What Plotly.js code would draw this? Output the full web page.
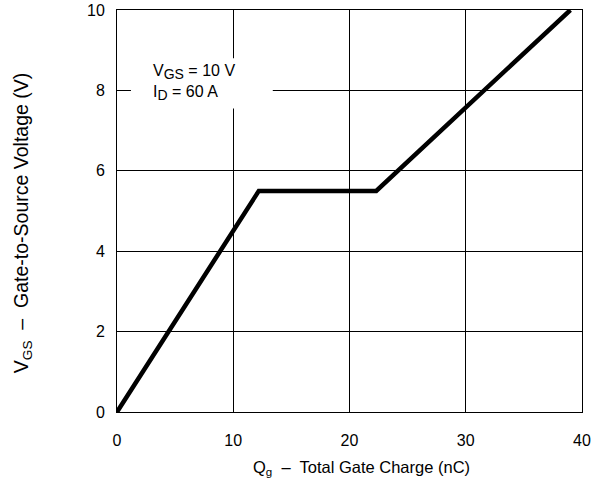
<!DOCTYPE html>
<html><head><meta charset="utf-8">
<script src="https://cdn.plot.ly/plotly-3.0.1.min.js"></script>
<style>html,body{margin:0;padding:0;background:#fff}#c{width:602px;height:492px}</style>
</head><body><div id="c"></div>
<script>
const qg = [0, 12.2, 22.3, 39.0];
const vgs = [0, 5.5, 5.5, 10.0];
const xTicks = [0, 10, 20, 30, 40];
const yTicks = [0, 2, 4, 6, 8, 10];
const condText = 'V<sub><span style="font-size:14px">GS</span></sub> = 10 V<br>I<sub><span style="font-size:14px">D</span></sub> = 60 A';
const xTitle = 'Q<sub>g</sub>  \u2013  Total Gate Charge (nC)';
const yTitle = 'V<sub>GS</sub>  \u2013  Gate-to-Source Voltage (V)';

const data = [{x: qg, y: vgs, mode:'lines', line:{color:'#000', width:4.5}, hoverinfo:'skip'}];
const layout = {
  width:602, height:492, margin:{l:117, r:20, t:10, b:80},
  paper_bgcolor:'#fff', plot_bgcolor:'#fff', showlegend:false,
  font:{family:'Liberation Sans, Arial, sans-serif', color:'#000', size:14},
  xaxis:{range:[0,40], tickvals:xTicks, ticktext:xTicks.map(String), showgrid:true, gridcolor:'#000', gridwidth:1,
    zeroline:false, showline:true, linecolor:'#000', linewidth:1, mirror:true, ticks:'', ticklabelstandoff:14,
    tickfont:{size:16}},
  yaxis:{range:[0,10], tickvals:yTicks, ticktext:yTicks.map(String), showgrid:true, gridcolor:'#000', gridwidth:1,
    zeroline:false, showline:true, linecolor:'#000', linewidth:1, mirror:true, ticks:'', ticklabelstandoff:8,
    tickfont:{size:16}},
  shapes: [{type:'rect', xref:'x', yref:'y', x0:1.2, x1:13.4, y0:7.55, y1:8.8, fillcolor:'#fff', line:{width:0}, layer:'between'}],
  annotations: [
    {xref:'x', yref:'y', x:2.9, y:8.75, xanchor:'left', yanchor:'top', text:condText, showarrow:false,
      align:'left', font:{size:16, color:'#000'}},
    {xref:'paper', yref:'paper', x:0.525, y:-0.139, xanchor:'center', yanchor:'middle', text:xTitle, showarrow:false,
      font:{size:16.5, color:'#000'}},
    {xref:'paper', yref:'paper', x:-0.204, y:0.47, xanchor:'center', yanchor:'middle', text:yTitle, showarrow:false,
      textangle:-90, font:{size:19.5, color:'#000'}}
  ]
};
Plotly.newPlot('c', data, layout, {displayModeBar:false, staticPlot:true});
</script></body></html>
